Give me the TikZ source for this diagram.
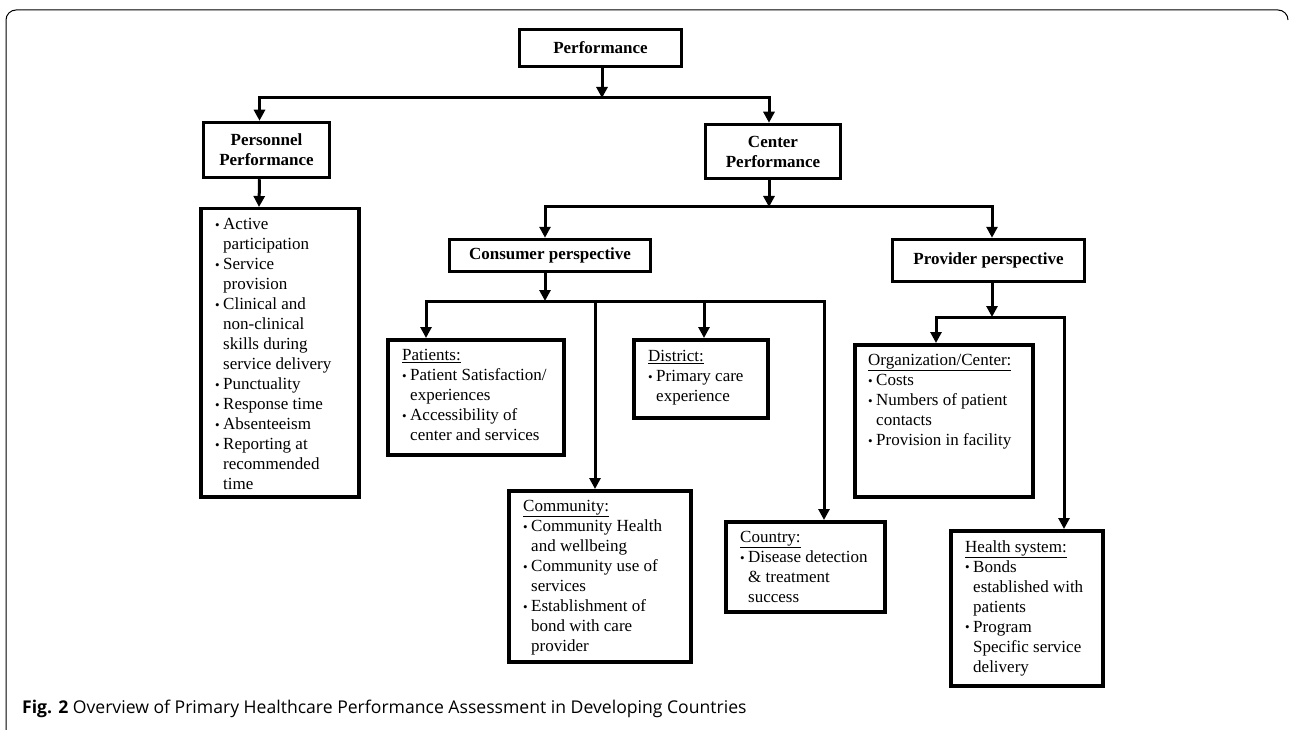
\documentclass[tikz,border=0pt]{standalone}
\usepackage{fontspec}
\setmainfont{Liberation Serif}
\newfontfamily\capfont{Open Sans}
\usetikzlibrary{positioning, arrows.meta, calc}

\newcommand{\boxfont}{\fontsize{17}{20}\selectfont}
\newcommand{\bul}{\makebox[8pt][l]{\raisebox{0.2pt}{\fontsize{13}{13}\selectfont\textbullet}}}
\newcommand{\ind}{\hspace*{8pt}}

\tikzset{
  head/.style={draw, line width=3.5pt, font=\boxfont\bfseries, align=center, inner sep=0pt},
  panel/.style={draw, line width=3.5pt, anchor=north west, inner sep=0pt},
  txt/.style={anchor=north west, align=left, inner sep=0pt, font=\boxfont},
  link/.style={line width=3pt},
  arr/.style={link, -{Triangle[length=11pt,width=11pt]}},
}

\begin{document}
\begin{tikzpicture}[x=1pt, y=-1pt]
\useasboundingbox (0,0) rectangle (1290,730);
\draw[line width=1pt, rounded corners=10pt] (6,731) -- (6,10) -- (1288,10) -- (1288,20);

% header boxes
\node[head, minimum width=162pt, minimum height=37pt] (perf) at (600.5,48) {Performance};
\node[head, minimum width=126pt, minimum height=55pt] (pers) at (266.5,150) {Personnel\\Performance};
\node[head, minimum width=135pt, minimum height=54pt] (cent) at (773,151.5) {Center\\Performance};
\node[head, minimum width=201pt, minimum height=32pt] (cons) at (550,255.5) {Consumer perspective};
\node[head, minimum width=192pt, minimum height=42pt] (prov) at (988.5,260.5) {Provider perspective};

% content boxes
\node[panel, minimum width=158pt, minimum height=288pt] (list) at (199,207) {};
\node[panel, minimum width=176pt, minimum height=115pt] (pat) at (386,338) {};
\node[panel, minimum width=134pt, minimum height=78pt] (dist) at (632,338) {};
\node[panel, minimum width=182pt, minimum height=171pt] (comm) at (507,489) {};
\node[panel, minimum width=159pt, minimum height=90pt] (ctry) at (724,520) {};
\node[panel, minimum width=178pt, minimum height=152pt] (org) at (853,343) {};
\node[panel, minimum width=152pt, minimum height=155pt] (hsys) at (949,529) {};

\node[txt] (listt) at ([shift={(16,11)}]list.north west) {\bul Active\\ \ind participation\\ \bul Service\\ \ind provision\\ \bul Clinical and\\ \ind non-clinical\\ \ind skills during\\ \ind service delivery\\ \bul Punctuality\\ \bul Response time\\ \bul Absenteeism\\ \bul Reporting at\\ \ind recommended\\ \ind time};
\node[txt] (patt) at ([shift={(16,11)}]pat.north west) {\underline{Patients:}\\ \bul Patient Satisfaction/\\ \ind experiences\\ \bul Accessibility of\\ \ind center and services};
\node[txt] (distt) at ([shift={(16,12)}]dist.north west) {\underline{District:}\\ \bul Primary care\\ \ind experience};
\node[txt] (commt) at ([shift={(16,11)}]comm.north west) {\underline{Community:}\\ \bul Community Health\\ \ind and wellbeing\\ \bul Community use of\\ \ind services\\ \bul Establishment of\\ \ind bond with care\\ \ind provider};
\node[txt] (ctryt) at ([shift={(16,11)}]ctry.north west) {\underline{Country:}\\ \bul Disease detection\\ \ind \& treatment\\ \ind success};
\node[txt] (orgt) at ([shift={(15,11)}]org.north west) {\underline{Organization/Center:}\\ \bul Costs\\ \bul Numbers of patient\\ \ind contacts\\ \bul Provision in facility};
\node[txt] (hsyst) at ([shift={(16,11)}]hsys.north west) {\underline{Health system:}\\ \bul Bonds\\ \ind established with\\ \ind patients\\ \bul Program\\ \ind Specific service\\ \ind delivery};

% bus levels and arrow targets
\coordinate (bus1) at (0,98);
\coordinate (bus2) at (0,207);
\coordinate (bus3) at (0,301);
\coordinate (bus4) at (0,317);
\coordinate (tpers) at ([xshift=-7pt]pers.north);
\coordinate (tcent) at ([xshift=-4pt]cent.north);
\coordinate (tcons) at ([xshift=-5pt]cons.north);
\coordinate (tprov) at ([xshift=3.5pt]prov.north);
\coordinate (tlist) at ([xshift=60pt]list.north west);
\coordinate (tpat) at ([xshift=40pt]pat.north west);
\coordinate (tdist) at ([xshift=72pt]dist.north west);
\coordinate (tcomm) at ([xshift=88pt]comm.north west);
\coordinate (tctry) at ([xshift=100pt]ctry.north west);
\coordinate (torg) at ([xshift=83pt]org.north west);
\coordinate (thsys) at ([xshift=115pt]hsys.north west);

\draw[arr] ([xshift=1.5pt]perf.south) -- ([xshift=1.5pt]perf.south |- bus1);
\draw[arr] ([xshift=1.5pt]perf.south |- bus1) -| (tpers);
\draw[arr] ([xshift=1.5pt]perf.south |- bus1) -| (tcent);

\draw[arr] ([xshift=-7pt]pers.south) -- (tlist);

\draw[arr] ([xshift=-4pt]cent.south) -- ([xshift=-4pt]cent.south |- bus2);
\draw[arr] ([xshift=-4pt]cent.south |- bus2) -| (tcons);
\draw[arr] ([xshift=-4pt]cent.south |- bus2) -| (tprov);

\draw[arr] ([xshift=-5pt]cons.south) -- ([xshift=-5pt]cons.south |- bus3);
\draw[arr] ([xshift=-5pt]cons.south |- bus3) -| (tpat);
\draw[arr] ([xshift=-5pt]cons.south |- bus3) -| (tdist);
\draw[arr] ([xshift=-5pt]cons.south |- bus3) -| (tcomm);
\draw[arr] ([xshift=-5pt]cons.south |- bus3) -| (tctry);

\draw[arr] ([xshift=3.5pt]prov.south) -- ([xshift=3.5pt]prov.south |- bus4);
\draw[arr] ([xshift=3.5pt]prov.south |- bus4) -| (torg);
\draw[arr] ([xshift=3.5pt]prov.south |- bus4) -| (thsys);

\node[anchor=base west, inner sep=0pt, font=\capfont\fontsize{17.6}{19}\selectfont] (cap) at (22,713) {\textbf{Fig. 2} Overview of Primary Healthcare Performance Assessment in Developing Countries};
\end{tikzpicture}
\end{document}
